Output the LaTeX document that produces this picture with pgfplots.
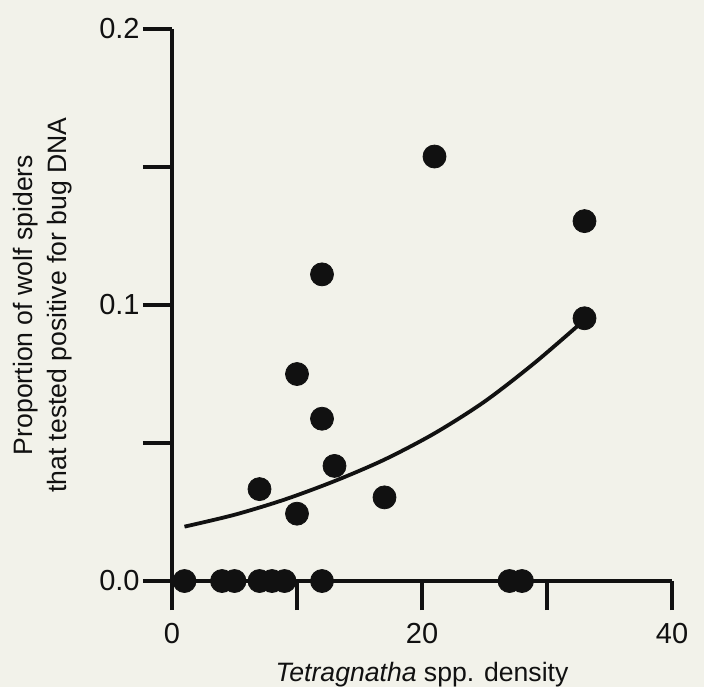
\documentclass[border=0pt]{standalone}
\usepackage{fontspec}
\setmainfont{Liberation Sans}
\usepackage{pgfplots}
\pgfplotsset{compat=1.18}
\definecolor{paper}{HTML}{F2F2EA}
\definecolor{ink}{HTML}{111111}

\begin{document}
\begin{tikzpicture}
\useasboundingbox (-86pt,-53pt) rectangle (266pt,290.5pt);
\fill[paper] (-86pt,-53pt) rectangle (266pt,290.5pt);
\begin{axis}[
    width=250pt, height=276pt, scale only axis,
    xmin=0, xmax=40, ymin=0, ymax=0.2,
    enlargelimits=false,
    clip=false,
    axis lines=left,
    axis line style={-, line width=2.2pt, ink},
    tick align=outside,
    major tick length=14.5pt,
    minor tick length=14.5pt,
    every tick/.style={ink, line width=1.8pt},
    xtick={0,20,40},
    minor xtick={10,30},
    ytick={0,0.1,0.2},
    minor ytick={0.05,0.15},
    /pgf/number format/assume math mode=true,
    tick label style={font=\fontsize{14.5}{17}\selectfont, text=ink},
    yticklabel style={inner sep=1.5pt, /pgf/number format/.cd, fixed, fixed zerofill, precision=1},
    xticklabel style={inner sep=0pt, yshift=-6.5pt},
    xlabel={\textit{Tetragnatha} spp. density},
    xlabel style={at={(axis description cs:0.5,0)}, anchor=base, yshift=-50.3pt,
        font=\fontsize{13.3}{16}\selectfont, text=ink},
    ylabel={Proportion of wolf spiders\\that tested positive for bug DNA},
    ylabel style={at={(axis description cs:-0.1988,0.5)}, rotate=0, anchor=south,
        inner sep=0pt, align=center, font=\fontsize{13.3}{17}\selectfont, text=ink},
]

% fitted curve
\addplot[ink, line width=1.9pt, smooth, no marks] coordinates {
    (1,0.0197) (5,0.0240) (9,0.0295) (13,0.0362) (17,0.0440)
    (21,0.0535) (25,0.0650) (29,0.0790) (33,0.0946)
};

\addplot[only marks, mark=*, mark size=5.75pt, ink, mark options={fill=ink}] table {
x   y
1   0
4   0
5   0
7   0
8   0
9   0
12  0
27  0
28  0
7   0.0333
10  0.0244
10  0.0750
12  0.0588
13  0.0417
12  0.1111
17  0.0303
21  0.1538
33  0.1304
33  0.0952
};
\end{axis}
\end{tikzpicture}
\end{document}
